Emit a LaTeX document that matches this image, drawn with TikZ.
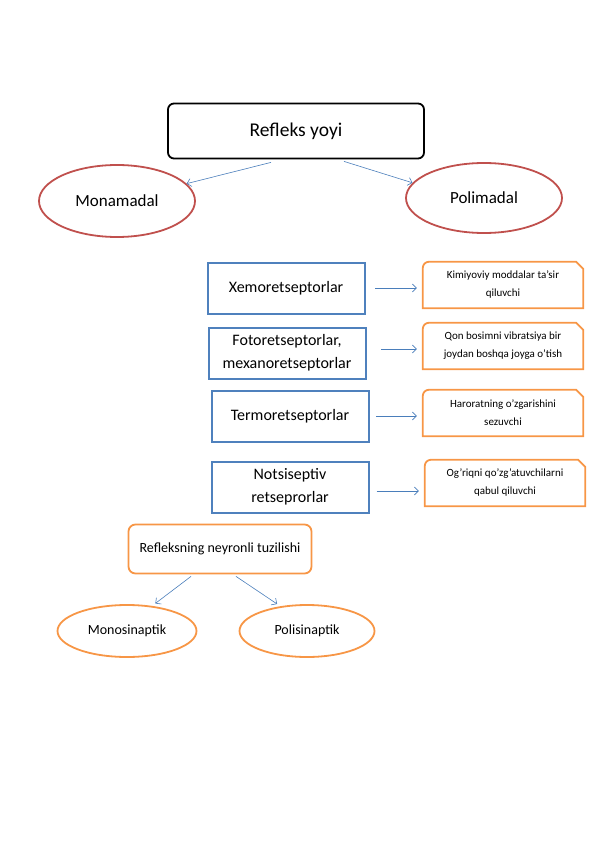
\documentclass[tikz,border=0pt]{standalone}
\usepackage{fontspec}
\setmainfont{Carlito}
\usetikzlibrary{shapes.geometric, arrows.meta}
\definecolor{arrblue}{HTML}{4A7EBB}
\definecolor{boxblue}{HTML}{4F81BD}
\definecolor{ovred}{HTML}{C0504D}
\definecolor{ovorange}{HTML}{F79646}
\tikzset{
  bigbox/.style={draw=boxblue, line width=2pt, minimum width=157pt, minimum height=51pt, align=center, font=\fontsize{16}{23}\selectfont},
  notebox/.style={minimum width=160pt, minimum height=46pt, align=center, font=\fontsize{11}{18}\selectfont},
  arr/.style={-{Straight Barb[length=4pt, width=8pt]}, draw=arrblue, line width=0.6pt}
}
\newcommand{\snipframe}[1]{%
  \draw[ovorange, line width=1.8pt] (#1.south west) -- ([yshift=-6pt]#1.north west)
    arc[start angle=180, end angle=90, radius=6pt] -- ([xshift=-7pt]#1.north east)
    -- ([yshift=-7pt]#1.north east) -- (#1.south east) -- cycle;}

\begin{document}
\begin{tikzpicture}[x=1pt, y=-1pt]
    \useasboundingbox (0,0) rectangle (596,842);
    \node[draw, line width=1.8pt, rounded corners=6pt, minimum width=256pt, minimum height=55pt, font=\fontsize{19.5}{23}\selectfont] (yoy) at (296,131) {Refleks yoyi};
    \node[ellipse, draw=ovred, line width=1.8pt, minimum width=156pt, minimum height=72pt, font=\fontsize{17}{20}\selectfont] (mona) at (117,201) {Monamadal};
    \node[ellipse, draw=ovred, line width=1.8pt, minimum width=156pt, minimum height=70pt, font=\fontsize{17}{20}\selectfont] (poli) at (484,198) {Polimadal};
    \draw[arr] ([xshift=-25pt,yshift=-3pt]yoy.south) -- (mona.14);
    \draw[arr] ([xshift=48pt,yshift=-2pt]yoy.south) -- (poli.168);

    \node[bigbox] (xemo) at (286,288) {Xemoretseptorlar};
    \node[bigbox] (foto) at (287,353) {Fotoretseptorlar,\\mexanoretseptorlar};
    \node[bigbox] (term) at (290,416) {Termoretseptorlar};
    \node[bigbox] (nots) at (290,487) {Notsiseptiv\\retseprorlar};

    \node[notebox] (kim) at (503,285) {Kimiyoviy moddalar ta'sir\\qiluvchi};
    \node[notebox] (qon) at (503,346) {Qon bosimni vibratsiya bir\\joydan boshqa joyga o'tish};
    \node[notebox] (har) at (503,413) {Haroratning o'zgarishini\\sezuvchi};
    \node[notebox] (ogr) at (505,483) {Og'riqni qo'zg'atuvchilarni\\qabul qiluvchi};
    \foreach \n in {kim,qon,har,ogr} \snipframe{\n};

    \foreach \a/\b/\dx/\dy in {xemo/kim/9.5/-3, foto/qon/14.5/-3, term/har/6.5/-3, nots/ogr/7/-8}
      \draw[arr] ([xshift=\dx pt,yshift=\dy pt]\a.east |- \b.west) -- ([xshift=-6pt,yshift=\dy pt]\b.west);

    \node[draw=ovorange, line width=1.8pt, rounded corners=7pt, minimum width=183pt, minimum height=49pt, font=\fontsize{14}{17}\selectfont] (neyr) at (220,549) {Refleksning neyronli tuzilishi};
    \node[ellipse, draw=ovorange, line width=1.8pt, minimum width=139pt, minimum height=52pt, font=\fontsize{14}{17}\selectfont] (mono) at (127,631) {Monosinaptik};
    \node[ellipse, draw=ovorange, line width=1.8pt, minimum width=135pt, minimum height=52pt, font=\fontsize{14}{17}\selectfont] (polis) at (307,631) {Polisinaptik};
    \draw[arr, shorten >=4pt] ([xshift=-29pt,yshift=-2pt]neyr.south) -- (mono.45);
    \draw[arr, shorten >=4pt] ([xshift=16pt,yshift=-2pt]neyr.south) -- (polis.137);
  \end{tikzpicture}
\end{document}
